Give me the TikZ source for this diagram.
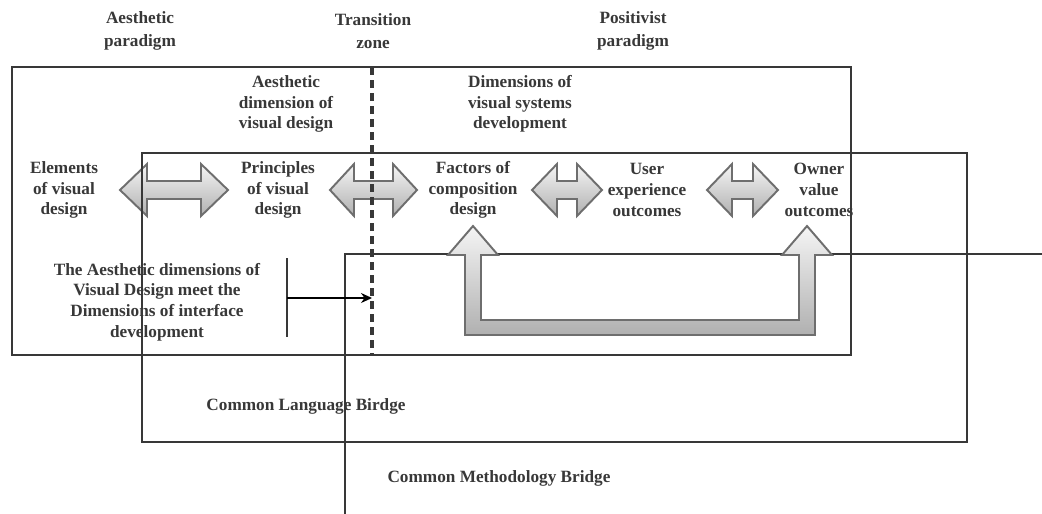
\documentclass[tikz,border=0pt]{standalone}
\usepackage{fontspec}
\setmainfont{Liberation Serif}
\usepackage{tikz}
\usetikzlibrary{calc,positioning,arrows.meta}
\definecolor{inkgray}{HTML}{383838}
\definecolor{rimgray}{HTML}{6E6E6E}
\tikzstyle{label}=[
  font=\bfseries\fontsize{9.8}{11.8}\selectfont, text=inkgray, align=center, inner sep=0pt
]
\tikzstyle{frame}=[
  draw=inkgray, line width=0.8pt
]
\tikzstyle{blockarrow}=[
  draw=rimgray, line width=1.1pt, line join=miter, top color=gray!8, bottom color=gray!62
]
% double block arrow between two tips, #3 = head length
\newcommand{\dblarrow}[3]{%
  \path[blockarrow] (#1) -- ++(#3,-26) -- ++(0,17) -- ($(#2)+(-#3,-9)$) -- ++(0,-17)
    -- (#2) -- ++(-#3,26) -- ++(0,-17) -- ($(#1)+(#3,9)$) -- ++(0,17) -- cycle;}

\begin{document}
\begin{tikzpicture}[x=0.2mm,y=-0.2mm,
    zoneline/.style={draw=inkgray, line width=2pt, dash pattern=on 1.5mm off 1.1mm},
    ]
    \useasboundingbox (0,0) rectangle (1042,513);
    %Headings
    \node[label] (aesthpar) at (140,31)  {Aesthetic\\[1pt]paradigm};
    \node[label] (transzone) at (373,31) {Transition\\[1pt]zone};
    \node[label] (positpar) at (633,31)  {Positivist\\[1pt]paradigm};
    \node[label] (aesthdim) at (286,104) {Aesthetic\\dimension of\\visual design};
    \node[label] (sysdim)   at (520,104) {Dimensions of\\visual systems\\development};
    %Row
    \node[label] (elem)  at (64,190)  {Elements\\of visual\\design};
    \node[label] (princ) at (278,190) {Principles\\of visual\\design};
    \node[label] (fact)  at (473,190) {Factors of\\composition\\design};
    \node[label] (user)  at (647,190) {User\\experience\\outcomes};
    \node[label] (owner) at (819,190) {Owner\\value\\outcomes};
    %Bottom texts
    \node[label] (meet) at (157,302) {The Aesthetic dimensions of\\Visual Design meet the\\Dimensions of interface\\development};
    \node[label] (langbr) at (306,406) {Common Language Birdge};
    \node[label] (methbr) at (499,478) {Common Methodology Bridge};

    %Methodology frame
    \begin{scope}
      \clip (0,0) rectangle (1042,513);
      \draw[frame] (345,254) rectangle (1100,560);
    \end{scope}

    %Arrow tips
    \coordinate (e1) at ($(elem)+(56,0)$);
    \coordinate (p1) at ($(princ)+(-50,0)$);
    \coordinate (p2) at ($(princ)+(52,0)$);
    \coordinate (f1) at ($(fact)+(-56,0)$);
    \coordinate (f2) at ($(fact)+(59,0)$);
    \coordinate (u1) at ($(user)+(-45,0)$);
    \coordinate (u2) at ($(user)+(60,0)$);
    \coordinate (o1) at ($(owner)+(-41,0)$);
    \coordinate (fu) at ($(fact)+(0,36)$);
    \coordinate (ou) at ($(owner)+(-12,36)$);

    %Feedback arrow
    \path[blockarrow] (fu) -- ++(25,29) -- ++(-17,0) -- ++(0,65) -- ($(ou)+(-8,94)$)
      -- ++(0,-65) -- ++(-17,0) -- (ou) -- ++(25,29) -- ++(-17,0) -- ++(0,80)
      -- ($(fu)+(-8,109)$) -- ++(0,-80) -- ++(-17,0) -- cycle;

    %Double arrows
    \dblarrow{e1}{p1}{27}
    \dblarrow{p2}{f1}{24}
    \dblarrow{f2}{u1}{25}
    \dblarrow{u2}{o1}{25}

    %Frames
    \draw[frame] (12,67) rectangle (851,355);
    \draw[frame] (142,153) rectangle (967,442);

    %Transition line
    \coordinate (ztop) at (372,67);
    \coordinate (zbot) at (372,355);
    \draw[zoneline] (ztop) -- (zbot);

    %Meeting arrow
    \coordinate (bup) at (287,258);
    \coordinate (bdn) at (287,337);
    \coordinate (bmid) at (287,298);
    \draw[frame] (bup) -- (bdn);
    \draw[frame, draw=black, -{Stealth[length=2.2mm,width=2mm]}] (bmid) -- (bmid -| ztop);
\end{tikzpicture}
\end{document}
